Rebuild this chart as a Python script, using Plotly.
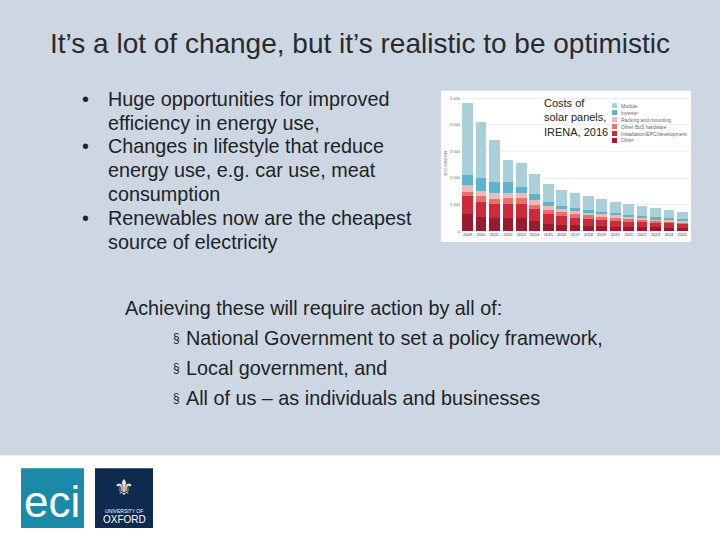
import plotly.graph_objects as go

years = ["2009","2010","2011","2012","2013","2014","2015","2016","2017","2018","2019","2020","2021","2022","2023","2024","2025"]
other = [630,550,500,480,480,380,280,230,220,200,180,170,160,150,140,130,120]
installation = [700,560,520,560,560,450,380,330,270,250,230,210,190,180,170,160,150]
bos = [150,200,200,200,200,170,150,150,150,140,130,120,110,100,90,90,80]
racking = [250,200,200,180,180,180,150,130,120,110,100,90,90,80,70,70,60]
inverter = [400,500,430,430,250,220,150,120,100,100,90,80,70,60,60,50,50]
module = [2700,2080,1580,840,900,740,660,600,560,510,470,430,400,370,330,290,260]
series = [("Other", other, "#9b1b2e"), ("Installation/EPC/development", installation, "#cf2a3b"),
          ("Other BoS hardware", bos, "#e8716b"), ("Racking and mounting", racking, "#f0b9b7"),
          ("Inverter", inverter, "#5bb3cf"), ("Module", module, "#a9d0d9")]
yticks = [0,1000,2000,3000,4000,5000]

fig = go.Figure()
for name, vals, col in series:
    fig.add_bar(x=years, y=vals, name=name, marker_color=col, marker_line_width=0, showlegend=False)

W, H = 720, 540
def px(x): return x / W
def py(y): return 1 - y / H

fig.update_layout(
    width=W, height=H, margin=dict(l=0, r=0, t=0, b=0),
    paper_bgcolor="white", plot_bgcolor="white", barmode="stack", bargap=0.2,
    font=dict(family="Liberation Sans, Arial", color="#222"),
    xaxis=dict(domain=[px(461), px(689)], tickfont=dict(size=4, color="#333"), showgrid=False, ticks=""),
    yaxis=dict(domain=[py(232), py(96)], range=[0, 5100], tickvals=yticks,
               ticktext=["0","1 000","2 000","3 000","4 000","5 000"],
               tickfont=dict(size=4, color="#666"), gridcolor="#eee",
               title=dict(text="2015 USD/kW", font=dict(size=4, color="#666"), standoff=2)),
)
shapes = [
    dict(type="rect", xref="paper", yref="paper", x0=0, x1=1, y0=py(457), y1=1,
         fillcolor="#cdd7e4", line_width=0, layer="below"),
    dict(type="rect", xref="paper", yref="paper", x0=px(441), x1=px(691), y0=py(243), y1=py(91),
         fillcolor="white", line_width=0, layer="below"),
    dict(type="rect", xref="paper", yref="paper", x0=px(21), x1=px(84), y0=py(530), y1=py(470),
         fillcolor="#1b8aa8", line_width=0),
    dict(type="rect", xref="paper", yref="paper", x0=px(95), x1=px(153), y0=py(530), y1=py(470),
         fillcolor="#0e2a4f", line_width=0),
]
ann = []
def t(x, y, s, size=19.8, anchor="left", color="#222"):
    ann.append(dict(x=px(x), y=py(y), xref="paper", yref="paper", text=s, showarrow=False,
                    xanchor=anchor, yanchor="middle", font=dict(size=size, color=color)))

for i, (name, vals, col) in enumerate(reversed(series)):
    y = 106 + i * 7
    shapes.append(dict(type="rect", xref="paper", yref="paper", x0=px(612), x1=px(617),
                       y0=py(y + 2.5), y1=py(y - 2.5), fillcolor=col, line_width=0))
    t(619, y, name, 5, "left", "#666")
fig.update_layout(shapes=shapes)

t(360, 44, "It’s a lot of change, but it’s realistic to be optimistic", 28, "center", "#2a2a2a")
lines = [(99, "•", "Huge opportunities for improved"), (123, "", "efficiency in energy use,"),
         (147, "•", "Changes in lifestyle that reduce"), (171, "", "energy use, e.g. car use, meat"),
         (195, "", "consumption"), (219, "•", "Renewables now are the cheapest"),
         (243, "", "source of electricity")]
for y, b, s in lines:
    if b:
        t(80, y, b)
    t(106, y, s)
t(123, 309, "Achieving these will require action by all of:")
for y, s in [(339, "National Government to set a policy framework,"), (369, "Local government, and"),
             (399, "All of us – as individuals and businesses")]:
    t(171, y, "§", 12)
    t(184, y, s)
t(542, 95, "Costs of<br>solar panels,<br>IRENA, 2016", 11)
ann[-1]["yanchor"] = "top"; ann[-1]["align"] = "left"
t(52, 503, "eci", 44, "center", "white")
t(124, 489, "⚜", 22, "center", "white")
t(124, 513, "UNIVERSITY OF", 5, "center", "white")
t(124, 521, "OXFORD", 10, "center", "white")
fig.update_layout(annotations=ann)
fig.write_html("out.html", config={"displayModeBar": False},
               post_script="document.body.style.margin='0';")
